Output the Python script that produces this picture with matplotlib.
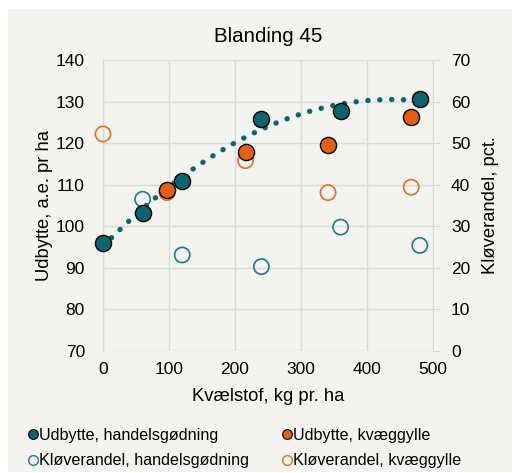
import numpy as np
import matplotlib.pyplot as plt
from matplotlib.lines import Line2D
from matplotlib.patches import Rectangle

# --------------------------
# Data
# --------------------------
n_handel = [0, 60, 120, 240, 360, 480]
udb_handel = [96.0, 103.2, 111.0, 125.7, 127.7, 130.6]
klv_handel_n = [60, 120, 240, 360, 480]
klv_handel = [36.5, 23.1, 20.3, 29.8, 25.4]

n_gylle = [97, 216, 341, 467]
udb_gylle = [108.8, 117.8, 119.5, 126.3]
klv_gylle_n = [0, 97, 216, 341, 467]
klv_gylle = [52.2, 38.1, 45.8, 38.1, 39.4]

# --------------------------
# Style
# --------------------------
TEAL = "#0b6470"
TEAL_OPEN = "#1f7a86"
ORANGE = "#e55e12"
ORANGE_OPEN = "#ec6a22"
BG = "#f3f3ef"
GRID = "#d9d9d9"

plt.rcParams["font.family"] = ["Liberation Sans", "DejaVu Sans"]
plt.rcParams["font.size"] = 12.5

fig = plt.figure(figsize=(5.12, 4.73), dpi=100)
fig.patch.set_facecolor("white")
fig.patches.append(Rectangle((8 / 512, 0.002), 1, 1 - 9 / 473 - 0.002,
                             transform=fig.transFigure, facecolor=BG,
                             edgecolor="none", zorder=-10))

ax = fig.add_axes([103 / 512, 1 - 351 / 473, 330 / 512, 291 / 473])
ax.set_facecolor(BG)
ax2 = ax.twinx()

ax.set_xlim(0, 500)
ax.set_ylim(70, 140)
ax2.set_ylim(0, 70)
ax.set_xticks(range(0, 501, 100))
ax.set_yticks(range(70, 141, 10))
ax2.set_yticks(range(0, 71, 10))

ax.grid(True, color=GRID, linewidth=1)
for a in (ax, ax2):
    for s in a.spines.values():
        s.set_visible(False)
ax.spines["left"].set_visible(True)
ax.spines["left"].set_color(GRID)
ax2.spines["right"].set_visible(True)
ax2.spines["right"].set_color(GRID)
ax.tick_params(axis="y", length=0, pad=13)
ax.tick_params(axis="x", length=0, pad=8)
ax2.tick_params(axis="y", length=5, color=GRID, pad=8)

# trend line (2nd order polynomial fit)
coef = np.polyfit(n_handel, udb_handel, 2)
xs = np.linspace(0, 480, 200)
ax.plot(xs, np.polyval(coef, xs), color=TEAL, lw=3.8,
        linestyle=(0, (0.05, 2.2)), dash_capstyle="round", zorder=2)

ax2.scatter(klv_handel_n, klv_handel, s=120, facecolor="none",
            edgecolor=TEAL_OPEN, linewidth=1.2, zorder=3, clip_on=False)
ax2.scatter(klv_gylle_n, klv_gylle, s=120, facecolor="none",
            edgecolor=ORANGE_OPEN, linewidth=1.2, zorder=3, clip_on=False)
ax2.scatter(n_gylle, udb_gylle, s=135, facecolor=ORANGE,
            edgecolor="black", linewidth=1.0, zorder=4,
            transform=ax.transData, clip_on=False)
ax2.scatter(n_handel, udb_handel, s=135, facecolor=TEAL,
            edgecolor="black", linewidth=1.0, zorder=5,
            transform=ax.transData, clip_on=False)
ax2.set_xlim(0, 500)

ax.set_title("Blanding 45", fontsize=14.8, pad=13)
ax.set_xlabel("Kvælstof, kg pr. ha", fontsize=13.2, labelpad=8)
ax.set_ylabel("Udbytte, a.e. pr ha", fontsize=13.2, labelpad=2)
ax2.set_ylabel("Kløverandel, pct.", fontsize=13.2, labelpad=8)

handles = [
    Line2D([], [], marker="o", ls="", markersize=7, markerfacecolor=TEAL,
           markeredgecolor="black", markeredgewidth=0.8),
    Line2D([], [], marker="o", ls="", markersize=7, markerfacecolor="none",
           markeredgecolor=TEAL_OPEN, markeredgewidth=1.0),
    Line2D([], [], marker="o", ls="", markersize=7, markerfacecolor=ORANGE,
           markeredgecolor="black", markeredgewidth=0.8),
    Line2D([], [], marker="o", ls="", markersize=7, markerfacecolor="none",
           markeredgecolor=ORANGE_OPEN, markeredgewidth=1.0),
]
labels = ["Udbytte, handelsgødning", "Kløverandel, handelsgødning",
          "Udbytte, kvæggylle", "Kløverandel, kvæggylle"]
fig.legend(handles, labels, ncol=2, loc="upper left",
           bbox_to_anchor=(14 / 512, 1 - 413 / 473), frameon=False,
           handlelength=0.5, handletextpad=0.15, columnspacing=2.1,
           labelspacing=0.68, fontsize=11.6)

fig.savefig("out.png", dpi=100, facecolor=fig.get_facecolor())
